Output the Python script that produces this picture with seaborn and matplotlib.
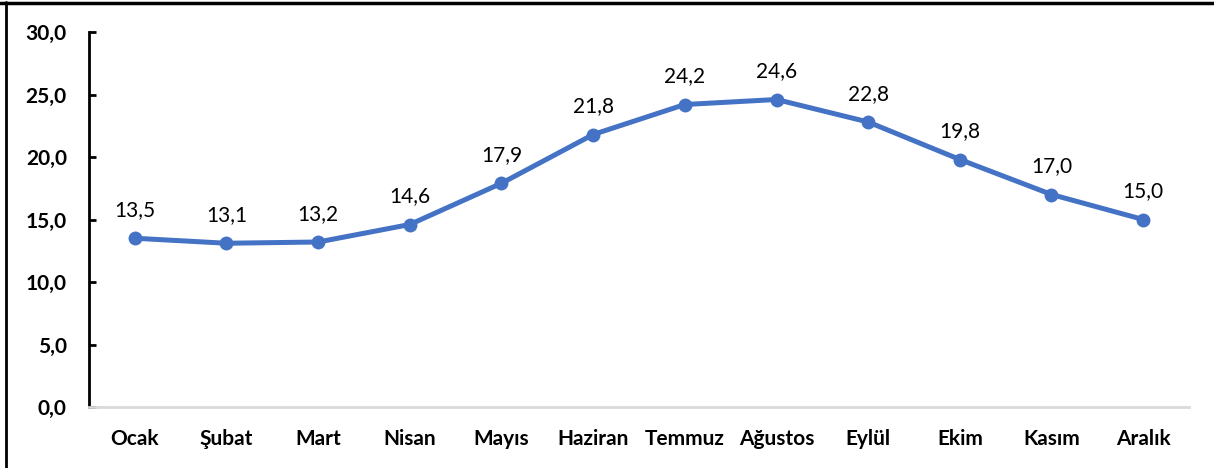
import matplotlib
matplotlib.use("Agg")
import matplotlib.pyplot as plt
import seaborn as sns
import pandas as pd
from matplotlib.lines import Line2D

months = ["Ocak", "Şubat", "Mart", "Nisan", "Mayıs", "Haziran", "Temmuz",
          "Ağustos", "Eylül", "Ekim", "Kasım", "Aralık"]
values = [13.5, 13.1, 13.2, 14.6, 17.9, 21.8, 24.2, 24.6, 22.8, 19.8, 17.0, 15.0]
yticks = [0, 5, 10, 15, 20, 25, 30]

sns.set_theme(style="white")
plt.rcParams['font.family'] = ['Lato', 'DejaVu Sans']

df = pd.DataFrame({"month": months, "value": values})
df["x"] = range(len(months))

fig = plt.figure(figsize=(12.14, 4.68), dpi=100)
ax = fig.add_axes([89/1214, 1-407/468, (1189-89)/1214, (407-32)/468])

color = "#4472C4"
sns.lineplot(data=df, x="x", y="value", ax=ax, color=color, linewidth=3.6,
             marker="o", markersize=10, markeredgewidth=0, sort=False)

ax.set_xlim(-0.5, len(months) - 0.5)
ax.set_ylim(0, 30)
ax.set_xticks(range(len(months)))
ax.set_xticklabels(months, fontsize=15, fontweight="bold", color="black")
ax.set_yticks(yticks)
ax.set_yticklabels([f"{v:.1f}".replace(".", ",") for v in yticks],
                   fontsize=15, fontweight="bold", color="black")
ax.set_xlabel("")
ax.set_ylabel("")

for s in ["top", "right"]:
    ax.spines[s].set_visible(False)
ax.spines["left"].set_color("black")
ax.spines["left"].set_linewidth(2)
ax.spines["bottom"].set_color("#D9D9D9")
ax.spines["bottom"].set_linewidth(2)

ax.tick_params(axis="y", direction="in", length=5, width=2, color="black", pad=16, left=True)
ax.tick_params(axis="x", length=0, pad=16)

for i, v in enumerate(values):
    ax.annotate(f"{v:.1f}".replace(".", ","), (i, v), xytext=(0, 13),
                textcoords="offset points", ha="center", va="bottom",
                fontsize=15, color="black")

# outer frame lines (left and top)
fig.add_artist(Line2D([6/1214, 6/1214], [0, 1-2/468], transform=fig.transFigure,
                      color="black", linewidth=2))
fig.add_artist(Line2D([0, 1], [1-3/468, 1-3/468], transform=fig.transFigure,
                      color="black", linewidth=2.5))

fig.savefig("out.png", dpi=100)
